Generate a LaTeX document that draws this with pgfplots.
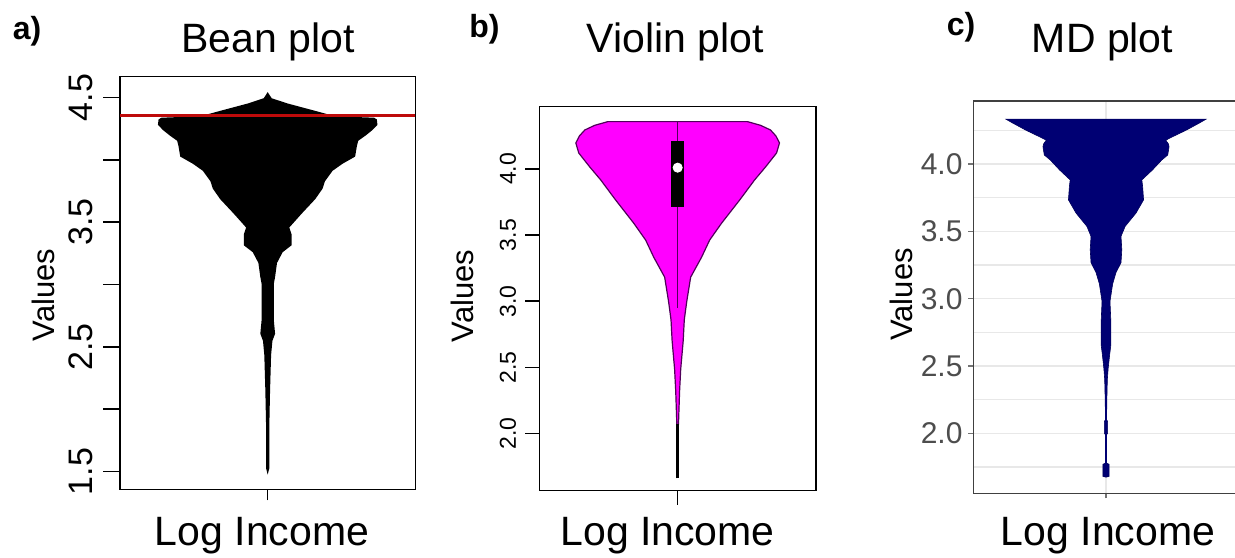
\documentclass[border=0pt]{standalone}
\usepackage{fontspec}
\setmainfont{Liberation Sans}
\usepackage{pgfplots}
\usepackage{pgfplotstable}
\pgfplotsset{compat=1.18}
\usepgfplotslibrary{fillbetween}

\definecolor{beanred}{RGB}{190,10,10}
\definecolor{vfill}{RGB}{255,0,255}
\definecolor{vedge}{RGB}{80,0,90}
\definecolor{mdnavy}{RGB}{0,0,115}
\definecolor{gridgray}{RGB}{232,232,232}
\definecolor{ticktext}{RGB}{77,77,77}

% half-widths (hw) of each density shape at value v; x axis runs -1..1
\pgfplotstableread{
v hw
4.543 0
4.494 0.027
4.452 0.135
4.395 0.315
4.366 0.405
4.350 0.45
4.338 0.72
4.324 0.739
4.281 0.743
4.239 0.709
4.196 0.664
4.153 0.613
4.111 0.604
4.026 0.592
3.969 0.507
3.912 0.439
3.827 0.387
3.770 0.372
3.685 0.322
3.571 0.232
3.457 0.146
3.401 0.162
3.315 0.162
3.259 0.101
3.173 0.063
3.060 0.050
3.003 0.041
2.719 0.041
2.605 0.050
2.548 0.032
2.435 0.023
2.151 0.016
1.866 0.011
1.526 0.011
1.475 0
}\beantable

\pgfplotstableread{
v hw
4.358 0.505
4.330 0.60
4.295 0.671
4.250 0.71
4.197 0.736
4.121 0.715
4.015 0.635
3.917 0.556
3.765 0.448
3.591 0.318
3.462 0.231
3.333 0.173
3.182 0.094
3.000 0.066
2.860 0.048
2.700 0.040
2.485 0.022
2.320 0.014
2.070 0.006
2.060 0
}\violintable

\pgfplotstableread{
v hw
4.333 0.754
4.301 0.697
4.251 0.603
4.202 0.50
4.177 0.45
4.150 0.47
4.128 0.475
4.067 0.465
4.030 0.42
3.956 0.35
3.882 0.27
3.832 0.276
3.734 0.283
3.636 0.226
3.537 0.144
3.463 0.113
3.364 0.119
3.268 0.113
3.194 0.075
3.110 0.050
2.980 0.030
2.820 0.037
2.660 0.037
2.580 0.027
2.480 0.016
2.400 0.010
2.240 0.006
2.100 0.004
2.090 0.012
2.000 0.012
1.990 0.004
1.780 0.004
1.770 0.023
1.680 0.023
1.675 0
}\mdtable

\begin{document}
\begin{tikzpicture}

\pgfplotsset{
  rbase/.style={
    scale only axis, xmin=-1, xmax=1,
    axis line style={line width=0.75pt},
    tick align=outside, ytick pos=left, xtick pos=bottom,
    xtick={0}, xticklabels={},
    every tick/.style={black, line width=0.75pt},
    yticklabel style={rotate=90, anchor=south, inner sep=0pt},
  },
}

% a) bean plot
\begin{axis}[rbase,
  at={(60pt,33.85pt)}, anchor=south west,
  width=147.7pt, height=206.3pt,
  ymin=1.357, ymax=4.667,
  ytick={1.5,2,2.5,3,3.5,4,4.5},
  yticklabels={1.5,,2.5,,3.5,,4.5},
  major tick length=8.5pt,
  xtick style={/pgfplots/major tick length=5.5pt},
  yticklabel style={font=\fontsize{17pt}{17pt}\selectfont},
  yticklabel shift=5pt,
]
\addplot[name path=BR, draw=none] table[x=hw, y=v] {\beantable};
\addplot[name path=BL, draw=none] table[x expr=-\thisrow{hw}, y=v] {\beantable};
\addplot[fill=black, draw=none] fill between[of=BR and BL, reverse=true];
\addplot[beanred, line width=1.5pt] coordinates {(-1,4.357) (1,4.357)};
\end{axis}

% b) violin plot
\begin{axis}[rbase,
  at={(269.65pt,33.15pt)}, anchor=south west,
  width=138.35pt, height=192pt,
  ymin=1.567, ymax=4.471,
  ytick={2,2.5,3,3.5,4},
  yticklabels={2.0,2.5,3.0,3.5,4.0},
  major tick length=7pt,
  yticklabel style={font=\fontsize{11.5pt}{11.5pt}\selectfont},
  yticklabel shift=4.4pt,
]
\addplot[name path=VR, draw=none] table[x=hw, y=v] {\violintable};
\addplot[name path=VL, draw=none] table[x expr=-\thisrow{hw}, y=v] {\violintable};
\addplot[fill=vfill, draw=vedge, line width=0.6pt] fill between[of=VR and VL, reverse=true];
\addplot[vedge, line width=0.6pt] coordinates {(0,2.95) (0,4.358)};
\addplot[black, line width=1.5pt] coordinates {(0,1.66) (0,2.07)};
\addplot[fill=black, draw=none] coordinates {(-0.045,3.71) (0.045,3.71) (0.045,4.214) (-0.045,4.214)} -- cycle;
\addplot[only marks, mark=*, mark size=2.3pt, mark options={fill=white, draw=white}] coordinates {(0,4.01)};
\end{axis}

% c) MD plot
\begin{axis}[
  scale only axis,
  at={(486.65pt,31.85pt)}, anchor=south west,
  width=132.7pt, height=196.15pt,
  xmin=-1, xmax=1, ymin=1.555, ymax=4.468,
  axis line style={black!75, line width=0.7pt},
  tick align=outside, ytick pos=left, xtick pos=bottom,
  xtick={0}, xticklabels={},
  ytick={2,2.5,3,3.5,4},
  yticklabels={2.0,2.5,3.0,3.5,4.0},
  minor ytick={1.75,2.25,2.75,3.25,3.75,4.25},
  ymajorgrids, yminorgrids, xmajorgrids,
  major grid style={gridgray, line width=0.8pt},
  minor grid style={gridgray, line width=0.6pt},
  major tick length=2.5pt, minor tick length=0pt,
  every tick/.style={black!55, line width=0.6pt},
  yticklabel style={font=\fontsize{15pt}{15pt}\selectfont, text=ticktext, anchor=east, inner sep=0pt},
  yticklabel shift=2.7pt,
]
\addplot[name path=MR, draw=none] table[x=hw, y=v] {\mdtable};
\addplot[name path=ML, draw=none] table[x expr=-\thisrow{hw}, y=v] {\mdtable};
\addplot[fill=mdnavy, draw=mdnavy!80!black, line width=0.3pt] fill between[of=MR and ML, reverse=true];
\addplot[mdnavy, line width=0.8pt] coordinates {(0,1.68) (0,3.1)};
\end{axis}

% titles and labels
\node[font=\bfseries\fontsize{16pt}{16pt}\selectfont] at (13.5pt,263pt) {a)};
\node[font=\bfseries\fontsize{16pt}{16pt}\selectfont] at (242.25pt,264pt) {b)};
\node[font=\bfseries\fontsize{16pt}{16pt}\selectfont] at (480.5pt,265pt) {c)};
\node[font=\fontsize{20.5pt}{20.5pt}\selectfont, anchor=base] at (134pt,252pt) {Bean plot};
\node[font=\fontsize{20.5pt}{20.5pt}\selectfont, anchor=base] at (337.75pt,252pt) {Violin plot};
\node[font=\fontsize{20.5pt}{20.5pt}\selectfont, anchor=base] at (551.3pt,252pt) {MD plot};
\node[font=\fontsize{20.5pt}{20.5pt}\selectfont, anchor=base] at (131pt,6pt) {Log Income};
\node[font=\fontsize{20.5pt}{20.5pt}\selectfont, anchor=base] at (333.8pt,6pt) {Log Income};
\node[font=\fontsize{20.5pt}{20.5pt}\selectfont, anchor=base] at (554pt,6pt) {Log Income};
\node[font=\fontsize{15.5pt}{15.5pt}\selectfont, rotate=90] at (21.5pt,131pt) {Values};
\node[font=\fontsize{15.5pt}{15.5pt}\selectfont, rotate=90] at (231.25pt,130.5pt) {Values};
\node[font=\fontsize{15.5pt}{15.5pt}\selectfont, rotate=90] at (450.8pt,131.3pt) {Values};

\pgfresetboundingbox
\path (0,0) rectangle (617.5pt,278.5pt);
\end{tikzpicture}
\end{document}
